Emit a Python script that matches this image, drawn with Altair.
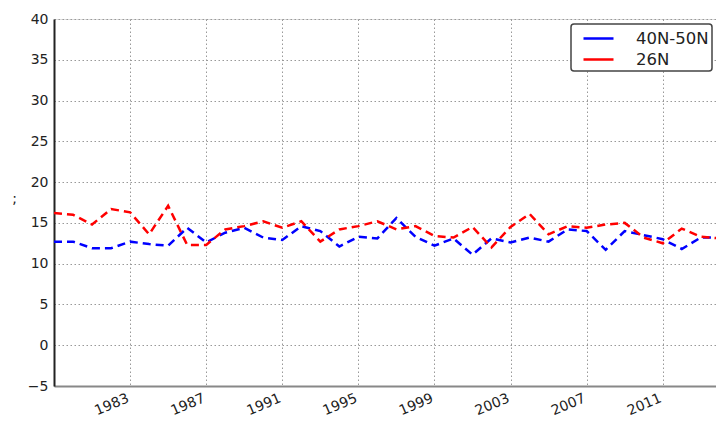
import altair as alt
import pandas as pd

years = list(range(1979, 2015))
blue_40n50n = [12.7, 12.7, 11.9, 11.9, 12.7, 12.4, 12.2, 14.4, 12.6, 13.8,
               14.4, 13.2, 12.9, 14.6, 14.0, 12.1, 13.3, 13.1, 15.6, 13.3,
               12.2, 13.1, 11.1, 13.1, 12.6, 13.2, 12.7, 14.2, 14.0, 11.7,
               14.0, 13.5, 13.0, 11.8, 13.2, 13.2]
red_26n = [16.2, 16.0, 14.8, 16.7, 16.3, 13.6, 17.1, 12.3, 12.3, 14.2,
           14.6, 15.2, 14.4, 15.2, 12.7, 14.2, 14.6, 15.2, 14.2, 14.6,
           13.4, 13.2, 14.5, 12.0, 14.5, 16.1, 13.6, 14.6, 14.4, 14.8,
           15.0, 13.2, 12.5, 14.3, 13.3, 13.1]
series_names = ["40N-50N", "26N"]
series_colors = ["#0000ff", "#ff0000"]
x_ticks = [1983, 1987, 1991, 1995, 1999, 2003, 2007, 2011]
y_ticks = [-5, 0, 5, 10, 15, 20, 25, 30, 35, 40]

df = pd.concat([
    pd.DataFrame({"year": years, "value": blue_40n50n, "series": series_names[0]}),
    pd.DataFrame({"year": years, "value": red_26n, "series": series_names[1]}),
])

FONT = "DejaVu Sans"

x_enc = alt.X(
    "year:Q",
    scale=alt.Scale(domain=[1979, 2013.8], nice=False, zero=False),
    axis=alt.Axis(values=x_ticks, format="d", labelAngle=337, labelAlign="right",
                  labelBaseline="top", labelPadding=5, labelOffset=-5, title=None,
                  domainColor="#888888", domainWidth=2),
)
y_enc = alt.Y(
    "value:Q",
    scale=alt.Scale(domain=[-5, 40], nice=False, zero=False),
    axis=alt.Axis(values=y_ticks, title=";", titleAngle=0, titleX=-40, titleY=186,
                  titleFontWeight="normal", titleFontSize=14, titleFont=FONT,
                  labelPadding=6, domainColor="#222222", domainWidth=2),
)
color_enc = alt.Color("series:N",
                      scale=alt.Scale(domain=series_names, range=series_colors),
                      legend=alt.Legend(title=None))

base = alt.Chart(df).mark_line(strokeDash=[8, 5], strokeWidth=2.5, clip=True).encode(
    x=x_enc, y=y_enc, color=color_enc)
blue_line = base.transform_filter(alt.datum.series == series_names[0])
red_line = base.transform_filter(alt.datum.series == series_names[1])

chart = (
    alt.layer(blue_line, red_line)
    .properties(width=662, height=367, autosize=alt.AutoSizeParams(type="none"),
                padding={"left": 46, "top": 11, "right": 0, "bottom": 34})
    .configure_view(stroke="#dddddd", strokeWidth=1)
    .configure_axis(
        labelFont=FONT, labelFontSize=14, labelColor="#222222",
        tickSize=0, grid=True, gridColor="#999999", gridDash=[1.5, 2.5],
        gridWidth=1, titleColor="#222222",
    )
    .configure_legend(
        orient="none", legendX=517, legendY=5, padding=3,
        strokeColor="#444444", strokeWidth=1.5, fillColor="white", cornerRadius=3,
        labelFont=FONT, labelFontSize=16.5, labelColor="#222222",
        symbolType="M-1.5,0H1.5", symbolSize=400, symbolStrokeWidth=2.5,
        symbolDash=[1, 0], symbolOffset=13, labelOffset=26, rowPadding=1,
    )
)

chart.save("out.html", embed_options={"renderer": "svg", "actions": False})
